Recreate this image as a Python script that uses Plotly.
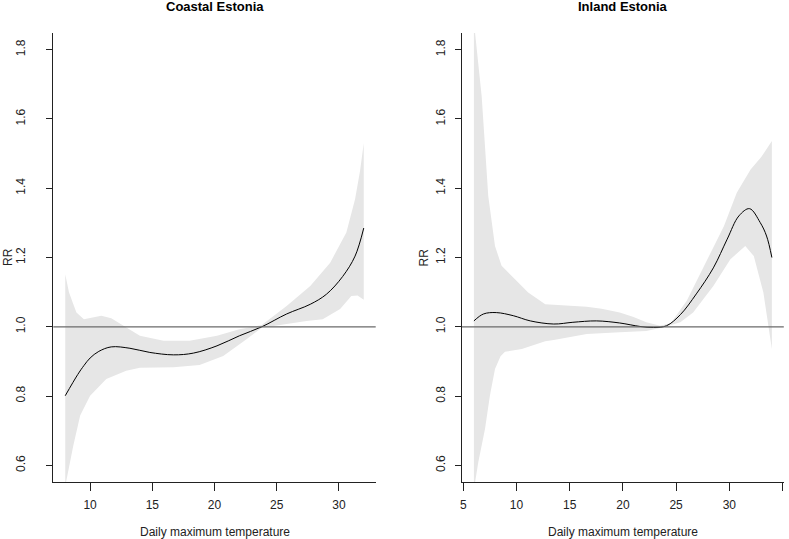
import plotly.graph_objects as go

# ---------------- data ----------------
panel_titles = ["Coastal Estonia", "Inland Estonia"]
x_label = "Daily maximum temperature"
y_label = "RR"
ref_rr = 1.0

coastal_temp = [8, 9, 9.5, 10, 10.7, 11.7, 13.2, 14.8, 16.7, 18.3, 20.2, 22, 23.8, 25.8, 27.7, 29, 30.3, 31.3, 32]
coastal_rr = [0.801, 0.862, 0.888, 0.91, 0.929, 0.942, 0.938, 0.926, 0.919, 0.924, 0.945, 0.974, 1.0, 1.037, 1.065, 1.094, 1.145, 1.204, 1.285]

coastal_up_temp = [8, 8.3, 8.65, 8.9, 9.5, 10.0, 10.9, 11.7, 12.7, 14, 15.9, 18, 20.2, 22, 23.8, 25.8, 27.7, 29.3, 30.6, 31.3, 31.7, 32]
coastal_up = [1.152, 1.10, 1.065, 1.041, 1.022, 1.026, 1.032, 1.025, 1.003, 0.974, 0.960, 0.960, 0.974, 0.993, 1.005, 1.060, 1.118, 1.185, 1.272, 1.368, 1.45, 1.53]

coastal_lo_temp = [8, 8.65, 9.2, 10, 11.3, 12.9, 14, 16.7, 18.8, 20.7, 22.6, 23.8, 25.8, 27.4, 28.7, 30.1, 31.0, 31.5, 32]
coastal_lo = [0.54, 0.657, 0.744, 0.801, 0.849, 0.873, 0.882, 0.883, 0.89, 0.916, 0.965, 0.997, 1.008, 1.017, 1.022, 1.051, 1.089, 1.09, 1.078]

inland_temp = [6, 6.9, 8.1, 9.7, 11.3, 13.5, 15.3, 17.5, 19.7, 21.6, 22.9, 24.1, 25.4, 26.9, 28.5, 29.8, 30.9, 31.9, 32.9, 33.5, 34]
inland_rr = [1.017, 1.037, 1.041, 1.032, 1.017, 1.008, 1.013, 1.017, 1.011, 1.001, 0.998, 1.003, 1.035, 1.095, 1.17, 1.253, 1.32, 1.341, 1.301, 1.262, 1.2]

inland_up_temp = [6, 6.1, 6.73, 7.04, 7.35, 7.98, 8.6, 9.86, 11.1, 12.7, 14.6, 16.6, 18, 19.7, 21, 22.2, 23.5, 24.5, 26.0, 27.6, 29.5, 30.7, 32.0, 33, 34]
inland_up = [1.88, 1.85, 1.665, 1.521, 1.377, 1.233, 1.176, 1.137, 1.099, 1.065, 1.061, 1.058, 1.052, 1.041, 1.028, 1.013, 1.003, 1.01, 1.075, 1.176, 1.291, 1.387, 1.454, 1.49, 1.536]

inland_lo_temp = [6, 6.41, 7.04, 7.5, 7.98, 8.5, 8.92, 10.5, 12.7, 13.5, 16.6, 19.7, 22.2, 23.7, 25.4, 26.6, 28.5, 30.1, 31.5, 32.3, 33.2, 34]
inland_lo = [0.53, 0.609, 0.705, 0.801, 0.878, 0.915, 0.928, 0.936, 0.958, 0.962, 0.979, 0.984, 0.988, 0.998, 1.013, 1.041, 1.118, 1.195, 1.233, 1.204, 1.099, 0.936]

coastal_xticks = [10, 15, 20, 25, 30]
inland_xticks = [5, 10, 15, 20, 25, 30, 35]
y_ticks = [0.6, 0.8, 1.0, 1.2, 1.4, 1.6, 1.8]

# ---------------- figure ----------------
W, H = 789, 539
FONT = "Liberation Sans, Arial, Helvetica, sans-serif"
BAND = "#E6E6E6"

fig = go.Figure()

panels = [
    dict(t=coastal_temp, rr=coastal_rr, ut=coastal_up_temp, u=coastal_up, lt=coastal_lo_temp, l=coastal_lo,
         xa="x", ya="y", xticks=coastal_xticks, xrange=[7.04, 32.96], px=(53.3, 375.7), ystand=17),
    dict(t=inland_temp, rr=inland_rr, ut=inland_up_temp, u=inland_up, lt=inland_lo_temp, l=inland_lo,
         xa="x2", ya="y2", xticks=inland_xticks, xrange=[4.88, 35.12], px=(462.0, 783.8), ystand=5),
]

y_top_px, y_bot_px = 33.0, 482.0
ydom = [1 - y_bot_px / H, 1 - y_top_px / H]

for i, p in enumerate(panels):
    poly_x = list(p["ut"]) + list(reversed(p["lt"]))
    poly_y = list(p["u"]) + list(reversed(p["l"]))
    fig.add_trace(go.Scatter(x=poly_x, y=poly_y, fill="toself", fillcolor=BAND,
                             line=dict(width=0, color=BAND), mode="lines",
                             xaxis=p["xa"], yaxis=p["ya"], showlegend=False, hoverinfo="skip"))
    fig.add_trace(go.Scatter(x=p["t"], y=p["rr"], mode="lines",
                             line=dict(color="black", width=1, shape="spline", smoothing=1.0),
                             xaxis=p["xa"], yaxis=p["ya"], showlegend=False))
    xref = "x" if i == 0 else "x2"
    yref = "y" if i == 0 else "y2"
    fig.add_shape(type="line", xref=f"{xref} domain", yref=yref, x0=0, x1=1, y0=ref_rr, y1=ref_rr,
                  line=dict(color="#6a6a6a", width=1.3), layer="above")

    xdom = [p["px"][0] / W, p["px"][1] / W]
    axis_common = dict(showline=True, linecolor="#222", linewidth=1, ticks="outside",
                       tickcolor="#222", tickwidth=1, showgrid=False, zeroline=False,
                       tickfont=dict(family=FONT, size=12, color="#222"), automargin=False,
                       fixedrange=True)
    xkey = "xaxis" if i == 0 else "xaxis2"
    ykey = "yaxis" if i == 0 else "yaxis2"
    fig.update_layout(**{
        xkey: dict(domain=xdom, range=p["xrange"], tickvals=p["xticks"], ticklen=8,
                   anchor=yref, ticklabelstandoff=4, **axis_common),
        ykey: dict(domain=ydom, range=[0.552, 1.848], tickvals=y_ticks, tickformat=".1f",
                   ticklen=6, tickangle=-90, anchor=xref, ticklabelstandoff=p["ystand"], **axis_common),
    })

    cx = (p["px"][0] + p["px"][1]) / 2 / W
    fig.add_annotation(text=f"<b>{panel_titles[i]}</b>", x=cx, y=1 - 6.5 / H, xref="paper", yref="paper",
                       showarrow=False, xanchor="center", yanchor="middle",
                       font=dict(family=FONT, size=13, color="black"))
    fig.add_annotation(text=x_label, x=cx, y=1 - 532 / H, xref="paper", yref="paper",
                       showarrow=False, xanchor="center", yanchor="middle",
                       font=dict(family=FONT, size=12, color="#222"))
    ylx = (7.5 if i == 0 else 423.0) / W
    fig.add_annotation(text=y_label, x=ylx, y=1 - 257.5 / H, xref="paper", yref="paper",
                       showarrow=False, xanchor="center", yanchor="middle", textangle=-90,
                       font=dict(family=FONT, size=12, color="#222"))

fig.update_layout(width=W, height=H, margin=dict(l=0, r=0, t=0, b=0),
                  plot_bgcolor="white", paper_bgcolor="white", showlegend=False,
                  template="none")

fig.write_html("out.html", config={"displayModeBar": False},
               post_script="document.body.style.margin='0';document.body.style.padding='0';")
